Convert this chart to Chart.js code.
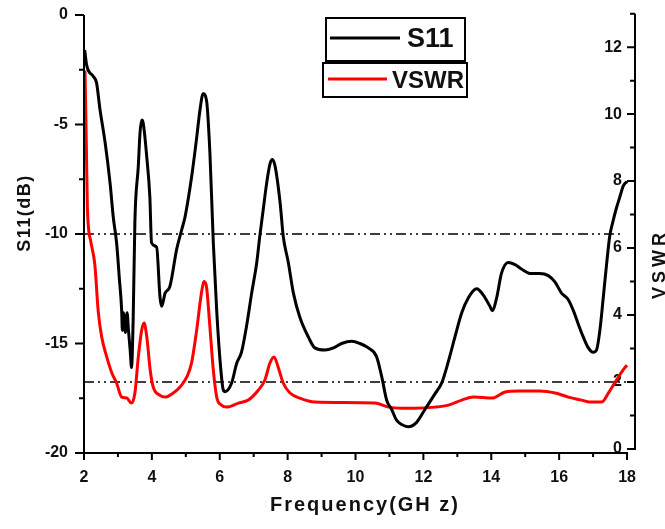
<!DOCTYPE html>
<html><head><meta charset="utf-8">
<script src="https://cdn.jsdelivr.net/npm/chart.js@4/dist/chart.umd.min.js"></script>
<style>html,body{margin:0;padding:0;background:#fff}canvas{display:block}</style>
</head><body>
<canvas id="c" width="665" height="529"></canvas>
<script>
// ---- data ----
const freqS11 = [2.02,2.08,2.27,2.37,2.47,2.62,2.77,2.86,2.96,3.04,3.11,3.13,3.16,3.22,3.27,3.31,3.36,3.40,3.45,3.50,3.60,3.65,3.70,3.74,3.85,3.94,3.99,4.14,4.24,4.29,4.39,4.53,4.73,4.88,4.98,5.17,5.32,5.42,5.51,5.61,5.71,5.81,5.91,6.01,6.10,6.15,6.35,6.50,6.64,6.79,6.94,7.09,7.18,7.28,7.38,7.48,7.55,7.63,7.78,7.87,8.02,8.17,8.36,8.61,8.80,9.10,9.35,9.59,9.89,10.13,10.38,10.62,10.77,10.92,11.06,11.21,11.36,11.55,11.80,12.05,12.34,12.54,12.74,12.93,13.13,13.33,13.57,13.77,13.96,14.03,14.16,14.30,14.50,14.70,14.89,15.14,15.43,15.68,15.88,16.07,16.27,16.42,16.56,16.71,16.86,17.00,17.10,17.20,17.30,17.39,17.49,17.59,17.69,17.79,17.89,18.00];
const s11 = [-1.6,-2.3,-2.8,-3.1,-4.3,-5.8,-7.7,-9.2,-10.4,-12.0,-13.5,-14.4,-13.6,-14.5,-13.6,-14.4,-15.3,-16.1,-13.8,-9.4,-6.9,-5.4,-4.8,-4.9,-6.5,-8.3,-10.4,-10.6,-12.9,-13.3,-12.7,-12.4,-10.7,-9.8,-9.2,-7.4,-5.6,-4.3,-3.6,-3.9,-6.3,-10.4,-13.5,-15.8,-17.1,-17.2,-16.8,-15.9,-15.4,-14.2,-12.7,-11.3,-10.1,-8.9,-7.7,-6.8,-6.6,-6.9,-8.6,-10.1,-11.3,-12.7,-13.8,-14.7,-15.2,-15.3,-15.2,-15.0,-14.9,-15.0,-15.2,-15.6,-16.5,-17.6,-18.0,-18.5,-18.7,-18.8,-18.6,-18.0,-17.3,-16.8,-15.8,-14.7,-13.6,-12.9,-12.5,-12.8,-13.3,-13.5,-12.9,-11.8,-11.3,-11.4,-11.6,-11.8,-11.8,-11.9,-12.2,-12.7,-13.0,-13.5,-14.1,-14.7,-15.2,-15.4,-15.3,-14.4,-12.9,-11.5,-10.1,-9.4,-8.8,-8.3,-7.8,-7.6];
const freqVSWR = [2.03,2.07,2.10,2.20,2.32,2.42,2.52,2.67,2.82,2.96,3.11,3.26,3.40,3.50,3.60,3.70,3.77,3.85,3.95,4.04,4.24,4.39,4.63,4.83,5.03,5.17,5.32,5.46,5.54,5.61,5.71,5.81,5.91,6.05,6.20,6.55,6.84,7.14,7.33,7.48,7.60,7.72,7.87,8.07,8.36,8.80,10.57,10.97,11.36,11.75,12.34,12.74,13.13,13.48,14.02,14.41,14.80,15.43,15.88,16.27,16.66,16.90,17.25,17.45,17.69,17.93,18.00];
const vswr = [11.3,9.0,7.2,6.2,5.5,4.1,3.35,2.75,2.27,1.97,1.55,1.52,1.37,1.67,2.75,3.55,3.76,3.35,2.36,1.85,1.60,1.55,1.67,1.85,2.15,2.57,3.55,4.66,5.0,4.84,3.64,2.36,1.55,1.31,1.25,1.37,1.46,1.76,2.06,2.57,2.75,2.45,1.97,1.67,1.52,1.40,1.37,1.25,1.22,1.22,1.25,1.31,1.46,1.55,1.52,1.70,1.73,1.73,1.67,1.55,1.46,1.40,1.40,1.67,2.06,2.42,2.50];
const xTicks = [2,4,6,8,10,12,14,16,18];
const leftTicks = [-20,-15,-10,-5,0];
const rightTicks = [0,2,4,6,8,10,12];
const s11Threshold = -10;
const s11ThresholdSpan = [2, 17.9];
const vswrThreshold = 2;
const vswrThresholdSpan = [2, 18.235];
const seriesNames = ['S11','VSWR'];
const xTitle = 'Frequency(GH z)';
const yTitle = 'S11(dB)';
const y2Title = 'VSWR';

const FONT = '"Liberation Sans", Arial, sans-serif';
const TXT = '#111';
const dash = [10,4,2,4,2,4];

const decor = {
  id: 'decor',
  afterDraw(chart) {
    const {ctx, chartArea: a, scales: {x, y, y2}} = chart;
    ctx.save();
    ctx.strokeStyle = '#000';
    ctx.lineWidth = 2;
    ctx.lineCap = 'butt';
    const rx = a.right;
    ctx.beginPath();
    // axis lines
    ctx.moveTo(a.left, y.getPixelForValue(0)); ctx.lineTo(a.left, a.bottom + 1);
    ctx.moveTo(a.left - 1, a.bottom); ctx.lineTo(x.getPixelForValue(18) + 1, a.bottom);
    ctx.moveTo(rx, y2.getPixelForValue(13)); ctx.lineTo(rx, y2.getPixelForValue(0) + 1);
    // x ticks
    for (const v of xTicks) {
      const p = x.getPixelForValue(v);
      ctx.moveTo(p, a.bottom); ctx.lineTo(p, a.bottom + 7);
      if (v < 18) { const q = x.getPixelForValue(v + 1); ctx.moveTo(q, a.bottom); ctx.lineTo(q, a.bottom + 4); }
    }
    // left ticks
    for (const v of leftTicks) {
      const p = y.getPixelForValue(v);
      ctx.moveTo(a.left, p); ctx.lineTo(a.left - 9, p);
      if (v < 0) { const q = y.getPixelForValue(v + 2.5); ctx.moveTo(a.left, q); ctx.lineTo(a.left - 5, q); }
    }
    // right ticks (inward)
    for (const v of rightTicks) {
      const p = y2.getPixelForValue(v);
      ctx.moveTo(rx, p); ctx.lineTo(rx - 8, p);
      const q = y2.getPixelForValue(v + 1); ctx.moveTo(rx, q); ctx.lineTo(rx - 5, q);
    }
    ctx.stroke();

    // titles
    ctx.fillStyle = TXT;
    ctx.textBaseline = 'middle';
    ctx.textAlign = 'center';
    ctx.font = 'bold 20px ' + FONT;
    ctx.letterSpacing = '2px';
    ctx.fillText(xTitle, 365, 505);
    ctx.save();
    ctx.translate(25, 213); ctx.rotate(-Math.PI / 2);
    ctx.font = 'bold 18px ' + FONT; ctx.letterSpacing = '1.5px';
    ctx.fillText(yTitle, 0, 0);
    ctx.restore();
    ctx.save();
    ctx.translate(660, 264); ctx.rotate(-Math.PI / 2);
    ctx.font = 'bold 18px ' + FONT; ctx.letterSpacing = '4px';
    ctx.fillText(y2Title, 0, 0);
    ctx.restore();
    ctx.letterSpacing = '0px';

    // legend
    ctx.lineWidth = 2;
    ctx.strokeStyle = '#000';
    ctx.strokeRect(326, 18, 139, 43);
    ctx.strokeRect(323, 63, 144, 34);
    ctx.lineWidth = 3;
    ctx.beginPath(); ctx.strokeStyle = '#000'; ctx.moveTo(330, 38); ctx.lineTo(400, 38); ctx.stroke();
    ctx.beginPath(); ctx.strokeStyle = '#ff0000'; ctx.moveTo(328, 79); ctx.lineTo(387, 79); ctx.stroke();
    ctx.textAlign = 'left';
    ctx.font = 'bold 27px ' + FONT;
    ctx.fillText(seriesNames[0], 407, 40);
    ctx.font = 'bold 24px ' + FONT;
    ctx.fillText(seriesNames[1], 392, 81);
    ctx.restore();
  }
};

const tickFont = {family: FONT, size: 16, weight: 'bold'};
const noPadV = s => { s.paddingTop = 0; s.paddingBottom = 0; };

new Chart(document.getElementById('c'), {
  type: 'line',
  data: {
    datasets: [
      {label: seriesNames[0], data: freqS11.map((f, i) => ({x: f, y: s11[i]})), yAxisID: 'y',
       borderColor: '#000', borderWidth: 3, pointRadius: 0, cubicInterpolationMode: 'monotone', order: 0},
      {label: seriesNames[1], data: freqVSWR.map((f, i) => ({x: f, y: vswr[i]})), yAxisID: 'y2',
       borderColor: '#ff0000', borderWidth: 3, pointRadius: 0, cubicInterpolationMode: 'monotone', order: 1},
      {label: 'S11 = -10 dB', data: s11ThresholdSpan.map(f => ({x: f, y: s11Threshold})), yAxisID: 'y',
       borderColor: '#000', borderWidth: 1.5, borderDash: dash, pointRadius: 0, order: 2},
      {label: 'VSWR = 2', data: vswrThresholdSpan.map(f => ({x: f, y: vswrThreshold})), yAxisID: 'y2',
       borderColor: '#000', borderWidth: 1.5, borderDash: dash, pointRadius: 0, order: 3}
    ]
  },
  options: {
    responsive: false,
    animation: false,
    layout: {padding: {top: 15, left: 0, right: 0, bottom: 0}},
    plugins: {legend: {display: false}, tooltip: {enabled: false}},
    scales: {
      x: {
        type: 'linear', position: 'bottom', min: 2, max: 18.235,
        grid: {display: false, drawTicks: false}, border: {display: false},
        ticks: {font: tickFont, color: TXT, padding: 15, maxRotation: 0},
        afterBuildTicks: s => { s.ticks = xTicks.map(v => ({value: v})); },
        afterFit: s => { s.height = 76; s.paddingLeft = 0; s.paddingRight = 0; }
      },
      y: {
        type: 'linear', position: 'left', min: -20, max: 0,
        grid: {display: false, drawTicks: false}, border: {display: false},
        ticks: {font: tickFont, color: TXT, padding: 16},
        afterBuildTicks: s => { s.ticks = leftTicks.map(v => ({value: v})); },
        afterFit: s => { s.width = 84; noPadV(s); }
      },
      y2: {
        type: 'linear', position: 'right', min: -0.12, max: 12.96,
        grid: {display: false, drawTicks: false}, border: {display: false},
        ticks: {font: tickFont, color: TXT, padding: -13, mirror: true},
        afterBuildTicks: s => { s.ticks = rightTicks.map(v => ({value: v})); },
        afterFit: s => { s.width = 30; noPadV(s); }
      }
    }
  },
  plugins: [decor]
});
</script>
</body></html>
